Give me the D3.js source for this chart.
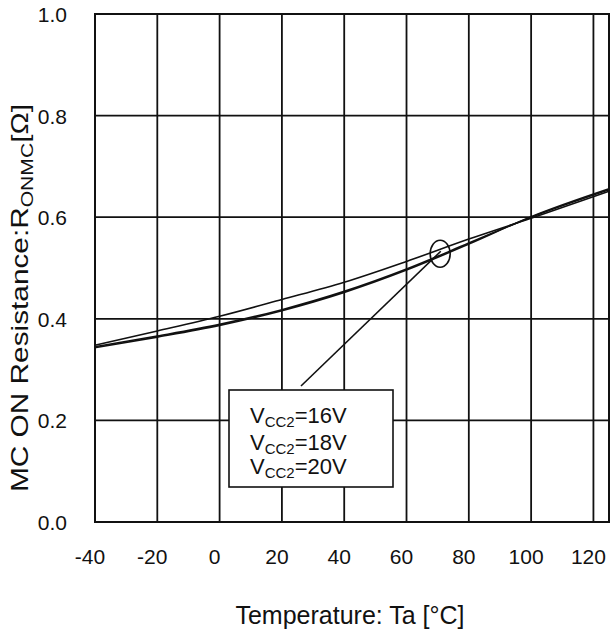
<!DOCTYPE html>
<html>
<head>
<meta charset="utf-8">
<script src="https://cdn.jsdelivr.net/npm/d3@7"></script>
<style>
  body { margin: 0; background: #fff; }
  text { font-family: "Liberation Sans", Arial, sans-serif; fill: #111; }
</style>
</head>
<body>
<div id="chart"></div>
<script>
// temperatures (x)
var temps = [-40, -20, 0, 20, 40, 60, 80, 100, 125];
// on resistance for each gate supply voltage
var vcc16 = [0.348, 0.376, 0.405, 0.438, 0.472, 0.513, 0.557, 0.598, 0.651];
var vcc18 = [0.345, 0.366, 0.389, 0.418, 0.454, 0.498, 0.549, 0.600, 0.654];
var vcc20 = [0.343, 0.364, 0.387, 0.416, 0.452, 0.496, 0.547, 0.601, 0.656];
var seriesNames = ["16V", "18V", "20V"];
var xTicks = [-40, -20, 0, 20, 40, 60, 80, 100, 120];
var yTicks = [0.0, 0.2, 0.4, 0.6, 0.8, 1.0];

(function(){
    var width = 616, height = 633;
    //plot area edges
    var plotLeft = 95, plotRight = 609, plotTop = 14, plotBottom = 522;

    var svg = d3.select("#chart").append("svg")
        .attr("width", width)
        .attr("height", height);

    var x = d3.scaleLinear().domain([-40, 125]).range([plotLeft, plotRight]);
    var y = d3.scaleLinear().domain([0, 1]).range([plotBottom, plotTop]);

    //grid lines
    svg.append("g").selectAll("line")
        .data(xTicks.slice(1))
        .enter().append("line")
        .attr("x1", function(d){ return x(d); })
        .attr("x2", function(d){ return x(d); })
        .attr("y1", plotTop)
        .attr("y2", plotBottom)
        .style("stroke", "#111")
        .style("stroke-width", 1.8);

    svg.append("g").selectAll("line")
        .data(yTicks.slice(1, -1))
        .enter().append("line")
        .attr("x1", plotLeft)
        .attr("x2", plotRight)
        .attr("y1", function(d){ return y(d); })
        .attr("y2", function(d){ return y(d); })
        .style("stroke", "#111")
        .style("stroke-width", 1.8);

    //frame
    svg.append("rect")
        .attr("x", plotLeft)
        .attr("y", plotTop)
        .attr("width", plotRight - plotLeft)
        .attr("height", plotBottom - plotTop)
        .style("fill", "none")
        .style("stroke", "#111")
        .style("stroke-width", 2);

    //tick labels
    svg.append("g").selectAll("text")
        .data(xTicks)
        .enter().append("text")
        .attr("x", function(d){ return x(d) - 5; })
        .attr("y", 564)
        .style("text-anchor", "middle")
        .style("font-size", "21px")
        .text(function(d){ return d; });

    svg.append("g").selectAll("text")
        .data(yTicks)
        .enter().append("text")
        .attr("x", 67)
        .attr("y", function(d){ return y(d) + 8; })
        .style("text-anchor", "end")
        .style("font-size", "21px")
        .text(function(d){ return d.toFixed(1); });

    //axis titles
    svg.append("text")
        .attr("x", 350)
        .attr("y", 624)
        .style("text-anchor", "middle")
        .style("font-size", "25px")
        .text("Temperature: Ta [°C]");

    var yTitle = svg.append("text")
        .attr("transform", "translate(28,298) rotate(-90)")
        .style("text-anchor", "middle")
        .style("font-size", "24px")
        .attr("textLength", 388)
        .attr("lengthAdjust", "spacingAndGlyphs");
    yTitle.append("tspan").text("MC ON Resistance:R");
    yTitle.append("tspan").attr("dy", 5).style("font-size", "17px").text("ONMC");
    yTitle.append("tspan").attr("dy", -5).text("[Ω]");

    //curves
    var line = d3.line()
        .x(function(d){ return x(d[0]); })
        .y(function(d){ return y(d[1]); })
        .curve(d3.curveMonotoneX);

    [vcc16, vcc18, vcc20].forEach(function(values){
        svg.append("path")
            .datum(temps.map(function(t, i){ return [t, values[i]]; }))
            .attr("d", line)
            .style("fill", "none")
            .style("stroke", "#111")
            .style("stroke-width", 1.6);
    });

    //marker ellipse and leader line
    svg.append("ellipse")
        .attr("cx", x(70.8))
        .attr("cy", y(0.528))
        .attr("rx", 10)
        .attr("ry", 13.5)
        .style("fill", "none")
        .style("stroke", "#111")
        .style("stroke-width", 1.6);

    svg.append("line")
        .attr("x1", x(71))
        .attr("y1", y(0.533))
        .attr("x2", 301)
        .attr("y2", 386)
        .style("stroke", "#111")
        .style("stroke-width", 1.6);

    //legend box
    svg.append("rect")
        .attr("x", 229)
        .attr("y", 390)
        .attr("width", 164)
        .attr("height", 97)
        .style("fill", "#fff")
        .style("stroke", "#111")
        .style("stroke-width", 1.6);

    var legendY = [423, 450, 474];
    seriesNames.forEach(function(name, i){
        var t = svg.append("text")
            .attr("x", 250)
            .attr("y", legendY[i])
            .style("font-size", "22px");
        t.append("tspan").text("V");
        t.append("tspan").attr("dy", 4).style("font-size", "15px").text("CC2");
        t.append("tspan").attr("dy", -4).text("=" + name);
    });
})();
</script>
</body>
</html>
